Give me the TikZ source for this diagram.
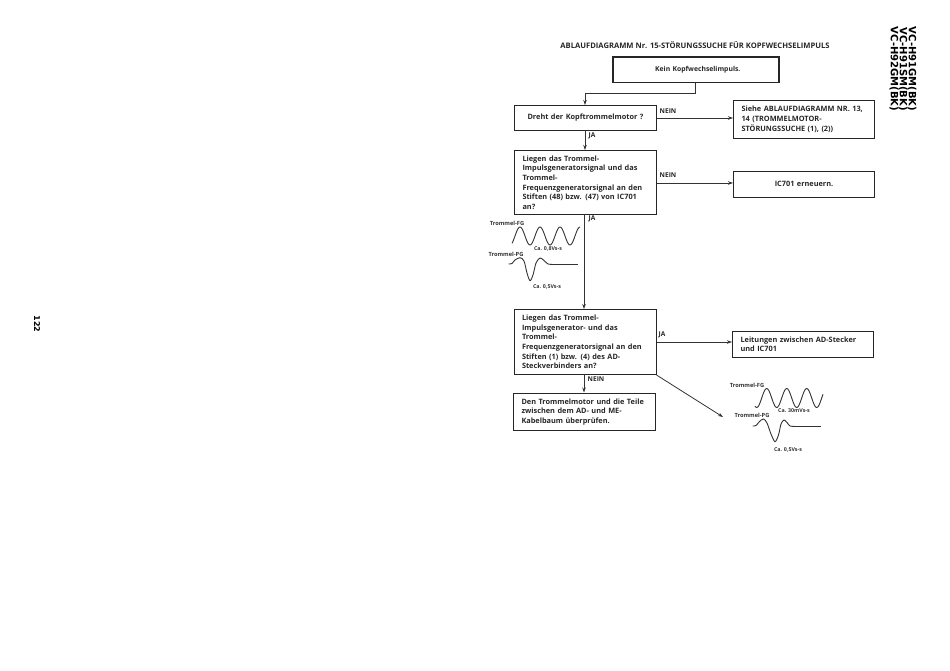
\documentclass[tikz,border=0pt]{standalone}
\usepackage{fontspec}
\setmainfont{Open Sans}
\newfontfamily\sidefont{DejaVu Sans}
\usetikzlibrary{arrows.meta}
\tikzset{
  flowbox/.style={draw=black!85,line width=1pt,rectangle,inner xsep=8pt,inner ysep=0pt,font=\fontsize{7.35}{9.6}\selectfont\bfseries,align=left,anchor=north west,text=black!85},
  startbox/.style={flowbox,line width=1.6pt,align=center,font=\fontsize{6.8}{9.6}\selectfont\bfseries},
  midbox/.style={flowbox,align=center},
  conn/.style={draw=black!80,line width=0.8pt,-{Stealth[length=5pt,width=3.5pt]}},
  branch/.style={font=\fontsize{6.6}{8}\selectfont\bfseries,text=black!85,inner sep=0pt},
  wave/.style={draw=black!80,line width=0.9pt,smooth},
  cap label/.style={font=\fontsize{5.7}{6}\selectfont\bfseries,text=black!80,inner sep=0pt},
  value label/.style={font=\fontsize{5.3}{6}\selectfont\bfseries,text=black!80,inner sep=0pt},
  side label/.style={rotate=-90,font=\sidefont\fontsize{10}{10}\selectfont\bfseries,inner sep=0pt},
}
\begin{document}
\begin{tikzpicture}[x=1pt,y=-1pt]
\useasboundingbox (0,0) rectangle (950,670);
\node[font=\fontsize{7.6}{8}\selectfont\bfseries,text=black!85,inner sep=0pt] (title) at (695,45) {ABLAUFDIAGRAMM Nr. 15-STÖRUNGSSUCHE FÜR KOPFWECHSELIMPULS};
\node[startbox,minimum width=166pt,minimum height=25.5pt,text width=150pt] (start) at (612,56) {\hspace*{4pt}Kein Kopfwechselimpuls.};
\node[midbox,minimum width=142pt,minimum height=25pt,text width=126pt] (q1) at (514,105) {Dreht der Kopftrommelmotor ?};
\node[flowbox,minimum width=141pt,minimum height=37.5pt,text width=125pt] (see) at (733,100) {Siehe ABLAUFDIAGRAMM NR. 13,\\14 (TROMMELMOTOR-\\STÖRUNGSSUCHE (1), (2))};
\node[flowbox,minimum width=142pt,minimum height=64pt,text width=126pt] (q2) at (514,150) {Liegen das Trommel-\\Impulsgeneratorsignal und das\\Trommel-\\Frequenzgeneratorsignal an den\\Stiften (48) bzw. (47) von IC701\\an?};
\node[midbox,minimum width=141pt,minimum height=25.5pt,text width=125pt] (ic) at (733,171) {IC701 erneuern.};
\node[flowbox,minimum width=142pt,minimum height=65pt,text width=126pt] (q3) at (513.5,309) {Liegen das Trommel-\\Impulsgenerator- und das\\Trommel-\\Frequenzgeneratorsignal an den\\Stiften (1) bzw. (4) des AD-\\Steckverbinders an?};
\node[flowbox,minimum width=140.5pt,minimum height=26.5pt,text width=124.5pt] (lines) at (732,330.5) {Leitungen zwischen AD-Stecker\\und IC701};
\node[flowbox,minimum width=142pt,minimum height=37.5pt,text width=126pt] (check) at (513,392.5) {Den Trommelmotor und die Teile\\zwischen dem AD- und ME-\\Kabelbaum überprüfen.};

\coordinate (diagend) at (723,417);
\draw[conn] (start.south -| 695,0) -- (695,93) -- (585,93) -- (585,105);
\draw[conn] (q1.east |- 0,118) -- (see.west |- 0,118);
\draw[conn] (585,130) -- (585,150);
\draw[conn] (q2.east |- 0,183) -- (ic.west |- 0,183);
\draw[conn] (584,214) -- (584,309);
\draw[conn] (q3.east |- 0,342) -- (lines.west |- 0,342);
\draw[conn] (584,374) -- (584,392.5);
\draw[conn] (q3.south east) -- (diagend);

\node[branch] (n1) at (668,111) {NEIN};
\node[branch] (j1) at (592,136) {JA};
\node[branch] (n2) at (668,175) {NEIN};
\node[branch] (j2) at (592,219) {JA};
\node[branch] (j3) at (662,334.5) {JA};
\node[branch] (n3) at (596,379) {NEIN};

\node[cap label] (fg1) at (507,223) {Trommel-FG};
\node[cap label] (pg1) at (506,254) {Trommel-PG};
\node[value label] (v1) at (548,249) {Ca. 0,8Vs-s};
\node[value label] (v2) at (547,287) {Ca. 0,5Vs-s};
\node[cap label] (fg2) at (747,385) {Trommel-FG};
\node[cap label] (pg2) at (752,415) {Trommel-PG};
\node[value label] (v3) at (794,411) {Ca. 30mVs-s};
\node[value label] (v4) at (788,450) {Ca. 0,5Vs-s};

\draw[draw=black!80,line width=0.9pt] plot[domain=512:580,samples=70,smooth] (\x,{236-9*cos(18*(\x-520))});
\draw[wave] plot coordinates {(508.5,264) (512,263.5) (515,260) (520,257.7) (524,261) (527,273) (530,280.7) (533,275) (536,263) (540,258) (544,260.5) (548,264) (552,264.3)};
\draw[draw=black!80,line width=0.9pt] (552,264.3) -- (578,264.3);
\draw[draw=black!80,line width=0.9pt] plot[domain=755:823,samples=70,smooth] (\x,{398-9.5*cos(18*(\x-766.7))});
\draw[wave] plot coordinates {(752.5,426) (756,425.5) (759.5,421.5) (763.5,419) (767,423) (771,434) (775,441.7) (778.5,435) (781,424) (784,420) (787,422.5) (790,426) (794,426.3)};
\draw[draw=black!80,line width=0.9pt] (794,426.3) -- (821,426.3);

\node[side label] (m1) at (912,69) {VC-H91GM(BK)};
\node[side label] (m2) at (903,69) {VC-H91SM(BK)};
\node[side label] (m3) at (894,69) {VC-H92GM(BK)};
\node[rotate=-90,font=\sidefont\fontsize{8}{9}\selectfont\bfseries,inner sep=0pt] (page) at (37,324) {122};
\end{tikzpicture}
\end{document}
